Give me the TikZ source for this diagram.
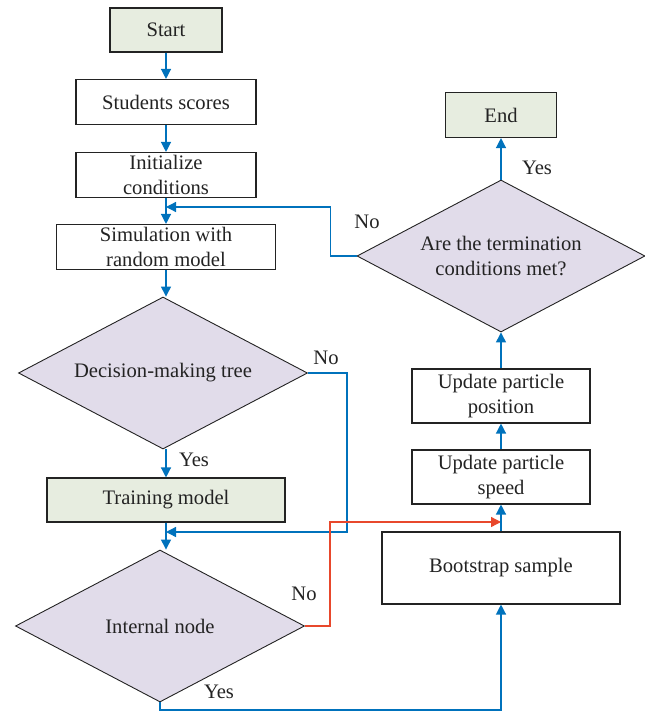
\documentclass[tikz,border=0pt]{standalone}
\usepackage{fontspec}
\setmainfont{Liberation Serif}
\usetikzlibrary{arrows.meta,shapes.geometric}
\definecolor{flowblue}{RGB}{0,114,188}
\definecolor{flowred}{RGB}{232,72,44}
\definecolor{termfill}{RGB}{231,237,224}
\definecolor{decfill}{RGB}{225,220,234}
\definecolor{edgegray}{RGB}{35,35,35}
\begin{document}
\begin{tikzpicture}[x=1pt,y=-1pt,
  txt/.style={font=\fontsize{20.6}{24.5}\selectfont, text=edgegray},
  box/.style={txt, draw=edgegray, line width=1.1pt, fill=white, align=center, inner sep=0pt},
  term/.style={box, fill=termfill},
  decision/.style={txt, diamond, aspect=1.9, draw=edgegray, line width=0.9pt, fill=decfill,
    minimum width=289pt, minimum height=152pt, inner sep=0pt, align=center},
  tip/.style={-{Triangle[length=10pt,width=10pt]}},
  flow/.style={draw=flowblue, line width=1.3pt, tip},
  redflow/.style={draw=flowred, line width=1.3pt, tip},
  lbl/.style={txt, inner sep=0pt}]
\useasboundingbox (0,0) rectangle (645,712);

% left column
\node[term, minimum width=112pt, minimum height=44pt] (start) at (166,30) {Start};
\node[box, minimum width=180pt, minimum height=45pt] (scores) at (166,102) {Students scores};
\node[box, minimum width=180pt, minimum height=45pt] (init) at (166,175) {Initialize\\conditions};
\node[box, minimum width=219pt, minimum height=45pt] (sim) at (166,247) {Simulation with\\random model};
\node[decision] (tree) at (163,373) {Decision-making tree};
\node[term, minimum width=238pt, minimum height=44pt] (train) at (166,500) {Training model};
\node[decision] (inner) at (160,626) {Internal node};

% right column
\node[term, minimum width=111pt, minimum height=45pt] (end) at (501,115) {End};
\node[decision, minimum width=288pt] (stop) at (501,256) {Are the termination\\conditions met?};
\node[box, minimum width=178pt, minimum height=54pt] (pos) at (501,396) {Update particle\\position};
\node[box, minimum width=178pt, minimum height=54pt] (speed) at (501,477) {Update particle\\speed};
\node[box, minimum width=238pt, minimum height=72pt] (boot) at (501,568) {Bootstrap sample};

% branch labels
\node[lbl] (yesend) at (537,168) {Yes};
\node[lbl] (nostop) at (367,222) {No};
\node[lbl] (notree) at (326,358) {No};
\node[lbl] (yestree) at (194,460) {Yes};
\node[lbl] (noinner) at (304,594) {No};
\node[lbl] (yesinner) at (219,692) {Yes};

% junction points on the main line
\coordinate (m1) at (166,207);
\coordinate (m2) at (166,532);
\coordinate (m3) at (501,522);

% main sequence
\draw[flow] (start) -- (scores);
\draw[flow] (scores) -- (init);
\draw[flow] (init) -- (sim);
\draw[flow] (sim.south) -- (sim.south |- tree.north);
\draw[flow] (tree.south -| train.north) -- (train.north);
\draw[flow] (train.south) -- (train.south |- inner.north);

% loop back from the termination test
\draw[flow] (stop.west) -- ++(-26,0) |- (m1);
\draw[flow] (stop.north) -- (end.south);

% decision tree "No" branch
\draw[flow] (tree.east) -- (347,373) |- (m2);

% internal node branches
\draw[redflow] (inner.east) -- (330,626) |- (m3);
\draw[flow] (inner.south) -- (160,710) -| (boot.south);

% particle update chain
\draw[flow] (boot.north) -- (speed.south);
\draw[flow] (speed.north) -- (pos.south);
\draw[flow] (pos.north) -- (stop.south);
\end{tikzpicture}
\end{document}
